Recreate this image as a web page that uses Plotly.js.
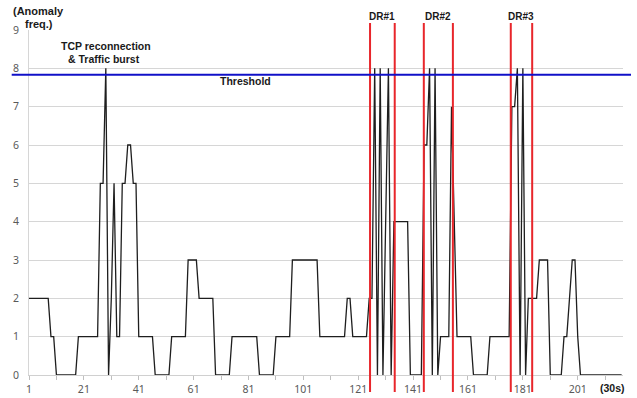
<!DOCTYPE html>
<html>
<head>
<meta charset="utf-8">
<script src="https://cdn.plot.ly/plotly-3.0.1.min.js"></script>
<style>html,body{margin:0;padding:0;background:#fff;}#chart{width:637px;height:398px;}</style>
</head>
<body>
<div id="chart"></div>
<script>
// Anomaly frequency per 30 s interval (index 1..217)
const anomalyFreq = [
  2,2,2,2,2,2,2,2, 1,1, 0,0,0,0,0,0,0,0, 1,1,1,1,1,1,1,1,
  5,5, 8, 0, 2, 5, 1,1, 5,5, 6,6, 5,5, 1,1,1,1,1,1,
  0,0,0,0,0,0, 1,1,1,1,1,1, 3,3,3,3, 2,2,2,2,2,2,
  0,0,0,0,0,0, 1,1,1,1,1,1,1,1,1,1, 0,0,0,0,0,0,
  1,1,1,1,1,1, 3,3,3,3,3,3,3,3,3,3, 1,1,1,1,1,1,1,1,1,1,
  2,2, 1,1,1,1,1,1, 2,2,
  8,0,8,0,4,8,0, 4,4,4,4,4,4, 0,0,0,0,0,
  6,6, 8,0,8,0, 1,1,1,1, 7,4, 1,1,1,1,1,1,
  0,0,0,0,0,0, 1,1,1,1,1,1,1,1,
  7,7, 8,0,8,0, 2,2,2,2, 3,3,3,3, 0,0,0,0,0,
  1,1, 2, 3,3, 1,
  0,0,0,0,0,0,0,0,0,0,0,0,0,0,0,0
];
const intervals = anomalyFreq.map((_, i) => i + 1);
const xTickVals = [1, 21, 41, 61, 81, 101, 121, 141, 161, 181, 201];
const yTickVals = [0, 1, 2, 3, 4, 5, 6, 7, 8, 9];
const thresholdValue = 7.83;
const drWindows = [
  {label: 'DR#1', start: 125.3, end: 134.3},
  {label: 'DR#2', start: 144.9, end: 155.5},
  {label: 'DR#3', start: 176.6, end: 184.4}
];

// pixel helpers for layout placement
const L = 29, R = 14, T = 30, B = 23, W = 637, H = 398;
const pw = W - L - R, ph = H - T - B;
const px = x => (x - L) / pw;
const py = y => (H - B - y) / ph;

const boldFont = {family: 'Liberation Sans, Arial, sans-serif', size: 10.5, color: '#1a1a1a', weight: 'bold'};

const shapes = [];
const annotations = [];
drWindows.forEach(w => {
  [w.start, w.end].forEach(v => shapes.push({
    type: 'line', xref: 'x', yref: 'paper', x0: v, x1: v, y0: py(392), y1: py(23),
    line: {color: '#e8262b', width: 2}, layer: 'above'
  }));
  annotations.push({
    text: '<b>' + w.label + '</b>', xref: 'x', yref: 'paper', x: (w.start + w.end) / 2, y: py(16.5),
    showarrow: false, xanchor: 'center', yanchor: 'middle', font: Object.assign({}, boldFont, {size: 10})
  });
});
shapes.push({
  type: 'line', xref: 'paper', yref: 'y', x0: px(11.7), x1: px(631), y0: thresholdValue, y1: thresholdValue,
  line: {color: '#1010c8', width: 2}, layer: 'above'
});

const txt = (t, x, y, size) => ({
  text: '<b>' + t + '</b>', xref: 'paper', yref: 'paper', x: px(x), y: py(y),
  showarrow: false, xanchor: 'center', yanchor: 'middle',
  font: Object.assign({}, boldFont, {size: size || 10.5})
});
annotations.push(txt('(Anomaly', 38.5, 11, 11));
annotations.push(txt('freq.)', 39, 24, 11));
annotations.push(txt('TCP reconnection', 105.5, 46));
annotations.push(txt('&amp; Traffic burst', 104, 59));
annotations.push(txt('Threshold', 245, 81));
annotations.push(txt('(30s)', 612, 388, 10.5));

const trace = {
  x: intervals, y: anomalyFreq, type: 'scatter', mode: 'lines',
  line: {color: '#1e1e1e', width: 1.3}, hoverinfo: 'skip'
};

const tickFont = {family: 'Noto Sans, Open Sans, sans-serif', size: 10.5, color: '#595959'};

const layout = {
  width: W, height: H,
  margin: {l: L, r: R, t: T, b: B, pad: 0},
  paper_bgcolor: '#ffffff', plot_bgcolor: '#ffffff',
  showlegend: false,
  xaxis: {
    range: [1, 217.5], tickmode: 'array', tickvals: xTickVals,
    ticktext: xTickVals.map(String),
    ticks: 'outside', ticklen: 4, tickcolor: '#bfbfbf', tickwidth: 1,
    minor: {tickmode: 'linear', tick0: 1, dtick: 10, ticks: 'outside', ticklen: 4, tickcolor: '#bfbfbf', showgrid: false},
    showgrid: false, zeroline: false, showline: true, linecolor: '#d0d0d0', linewidth: 1,
    tickfont: tickFont, fixedrange: true
  },
  yaxis: {
    range: [0, 9], tickmode: 'array', tickvals: yTickVals,
    showgrid: true, gridcolor: '#d6d6d6', gridwidth: 1,
    zeroline: true, zerolinecolor: '#d0d0d0', zerolinewidth: 1,
    showline: true, linecolor: '#d6d6d6', linewidth: 1,
    ticks: '', ticklabelstandoff: 7, tickfont: tickFont, fixedrange: true
  },
  shapes: shapes,
  annotations: annotations
};

Plotly.newPlot('chart', [trace], layout, {displayModeBar: false, staticPlot: true});
</script>
</body>
</html>
